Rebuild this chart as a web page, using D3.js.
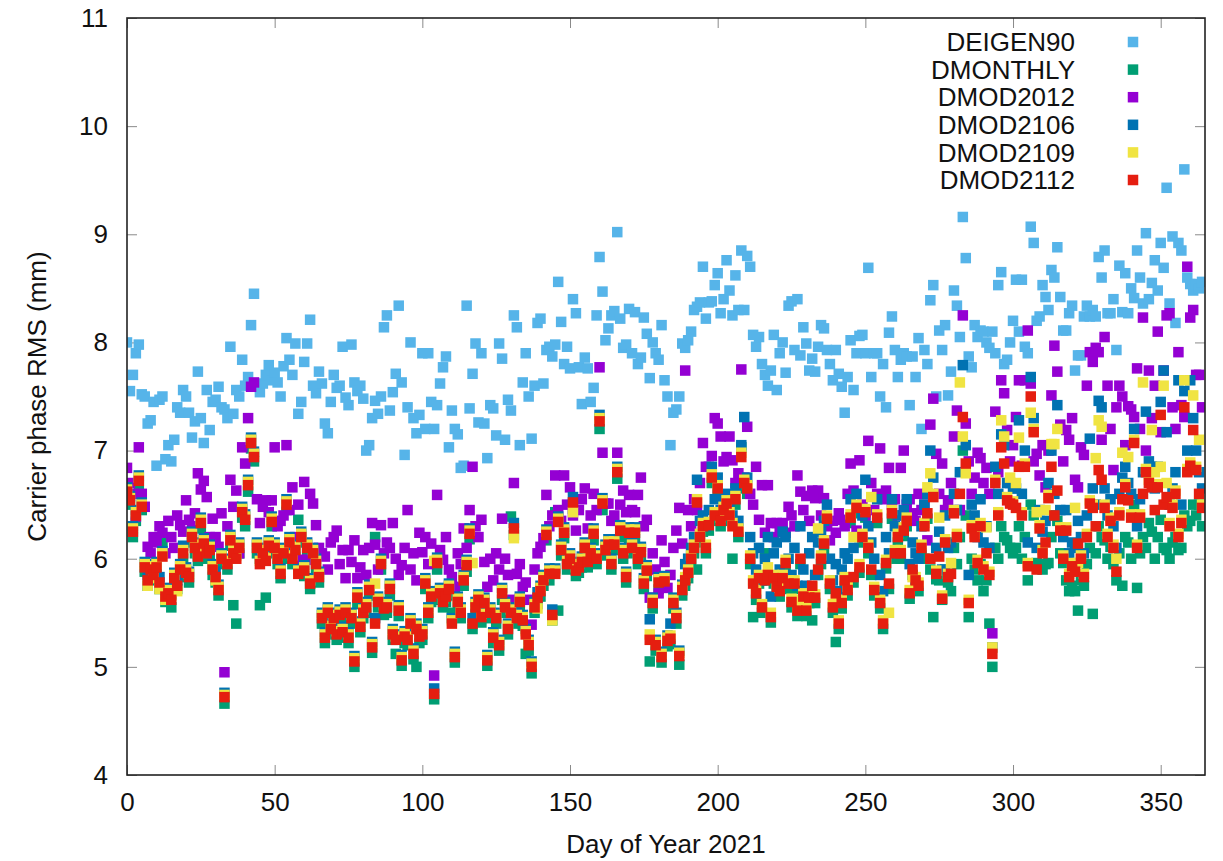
<!DOCTYPE html>
<html>
<head>
<meta charset="utf-8">
<script src="https://cdn.jsdelivr.net/npm/d3@7"></script>
<style>
  body { margin: 0; background: #fff; }
  text { font-family: "Liberation Sans", Arial, sans-serif; fill: #111; }
</style>
</head>
<body>
<div id="chart"></div>
<script>
// day of year for index 0 of every series (one value per day)
const firstDay = 0;

const seriesNames = ['DEIGEN90', 'DMONTHLY', 'DMOD2012', 'DMOD2106', 'DMOD2109', 'DMOD2112'];
const seriesColors = ['#56b4e9', '#009e73', '#9400d3', '#0072b2', '#f0e442', '#e51e10'];
const xTicks = [0, 50, 100, 150, 200, 250, 300, 350];
const yTicks = [4, 5, 6, 7, 8, 9, 10, 11];

// carrier phase RMS (mm)
const deigen90 = [
  8.00,7.55,7.70,7.90,7.98,7.52,7.50,7.25,7.28,7.45,
  6.86,7.47,7.50,6.92,7.05,6.90,7.10,7.40,7.35,7.56,
  7.50,7.35,7.12,7.27,7.73,7.30,7.07,7.56,7.19,7.45,
  7.47,7.59,7.40,7.38,7.30,7.96,7.34,7.56,7.50,7.84,
  7.60,7.68,8.16,8.45,7.60,7.54,7.62,7.70,7.79,7.65,
  7.72,7.63,7.50,7.78,8.04,7.84,7.70,7.99,7.34,7.45,
  7.82,7.99,8.21,7.60,7.53,7.73,7.62,7.25,7.16,7.45,
  7.70,7.58,7.60,7.96,7.49,7.42,7.98,7.63,7.55,7.60,
  7.48,7.00,7.05,7.30,7.46,7.34,7.50,8.14,8.25,7.37,
  7.54,7.71,8.34,7.63,6.96,7.40,8.00,7.30,7.16,7.33,
  7.90,7.20,7.90,7.45,7.20,7.42,7.62,7.77,7.87,7.03,
  7.37,7.20,7.15,6.84,6.86,8.34,7.39,7.71,7.99,7.26,
  7.90,7.25,6.93,7.42,7.39,7.14,7.99,7.85,7.10,7.47,
  7.37,8.25,8.14,7.05,7.63,7.90,7.50,7.11,7.60,8.18,
  8.22,7.62,7.93,7.96,7.87,7.98,8.56,8.19,7.80,7.96,
  7.76,8.40,8.27,7.77,7.43,7.86,7.76,7.45,7.58,8.25,
  8.79,8.47,8.02,8.13,8.25,8.29,9.02,8.22,7.95,7.98,
  8.31,7.90,8.28,7.80,7.86,8.23,8.08,7.67,8.00,7.90,
  7.84,8.16,7.65,7.50,7.05,7.35,7.38,7.50,7.99,7.95,
  8.02,8.10,8.30,8.33,8.37,8.70,8.22,8.37,8.38,8.53,
  8.64,8.27,8.40,8.76,8.48,8.25,8.62,8.30,8.85,8.30,
  8.80,8.70,8.07,7.96,8.05,7.80,7.70,7.60,7.74,8.07,
  7.56,7.90,8.00,7.72,8.34,8.38,7.93,8.40,7.88,8.14,
  7.99,7.74,7.85,7.73,7.96,8.16,8.13,7.93,7.80,7.65,
  7.93,7.71,7.59,7.35,7.68,8.02,7.56,7.90,8.06,8.07,
  7.90,8.69,7.68,7.90,7.90,7.50,7.80,7.40,8.09,8.24,
  7.93,7.68,7.84,7.90,7.87,7.42,7.87,7.68,8.04,7.20,
  7.93,7.80,8.39,8.53,7.50,8.11,7.93,8.16,7.51,7.73,
  8.48,8.34,8.05,9.16,8.78,7.87,7.77,8.16,8.05,8.11,
  8.10,8.00,7.95,8.10,7.90,8.53,8.65,7.80,7.84,8.00,
  8.20,8.58,8.10,8.58,7.96,7.90,9.07,8.92,8.20,8.24,
  8.53,8.42,8.30,8.67,8.60,8.88,8.42,8.11,8.11,8.27,
  8.34,7.74,7.88,7.88,8.24,8.34,8.24,8.30,8.24,8.79,
  8.60,8.85,8.27,8.27,8.40,7.93,8.71,8.28,8.64,8.27,
  8.50,8.41,8.85,8.60,8.36,9.01,8.40,8.55,8.76,8.48,
  8.92,8.69,9.43,8.36,8.98,8.18,8.92,8.85,9.60,8.60,
  8.54,8.48,8.54,8.50,8.56
];

const dmonthly = [
  6.58,6.50,6.20,6.35,6.68,6.45,5.88,5.75,5.85,5.80,
  5.88,5.72,6.15,5.60,5.62,5.55,5.78,5.72,5.85,6.00,
  5.83,5.78,6.15,6.05,5.98,6.28,6.10,6.00,6.04,5.85,
  5.78,5.66,5.95,4.66,5.90,6.12,5.57,5.40,6.05,6.38,
  6.30,6.62,7.02,6.90,6.05,5.57,6.00,5.64,6.08,6.30,
  6.05,5.95,5.82,6.00,6.45,6.10,5.95,6.03,6.36,6.15,
  5.84,6.05,5.72,6.00,5.90,5.78,5.40,5.22,5.45,5.30,
  5.40,5.25,5.43,5.27,5.45,5.22,5.40,5.00,5.58,5.32,
  5.45,5.50,5.66,5.13,6.20,5.55,5.90,5.48,5.50,5.66,
  5.25,5.12,5.47,5.01,5.22,5.20,5.35,5.07,5.00,5.22,
  5.25,5.72,5.45,5.60,4.70,5.90,5.62,5.55,5.60,5.66,
  5.50,5.04,5.55,5.45,5.75,5.88,6.18,5.35,5.50,5.57,
  5.41,5.54,5.01,5.45,5.22,5.40,5.15,5.62,5.50,5.30,
  6.39,6.22,5.40,5.55,5.38,5.12,5.15,4.94,5.50,5.58,
  5.65,5.75,6.17,5.80,5.43,6.43,5.52,6.03,6.19,5.90,
  5.95,6.46,5.84,5.87,5.92,6.05,5.92,6.00,6.17,5.95,
  7.20,6.45,6.03,6.08,5.90,6.08,6.74,6.20,6.00,5.78,
  6.18,6.05,6.18,5.95,6.00,5.72,5.84,5.05,5.54,5.15,
  5.72,5.04,5.74,5.19,5.21,5.54,5.40,5.02,5.66,5.75,
  5.82,5.95,6.05,5.90,6.15,6.25,6.05,6.26,6.70,6.35,
  6.60,6.30,6.40,6.46,6.35,6.00,6.50,6.20,7.03,6.65,
  6.60,5.95,5.46,5.62,5.77,5.50,6.05,5.80,5.41,5.77,
  5.69,5.65,5.77,5.90,5.72,5.55,5.72,5.47,5.95,5.60,
  5.47,5.59,5.43,5.59,5.85,5.95,6.09,6.32,5.72,5.50,
  5.23,5.35,5.54,5.75,5.66,6.33,5.78,6.42,5.87,6.15,
  6.38,6.05,5.85,5.66,6.33,5.54,5.35,5.91,5.72,6.37,
  6.00,6.15,6.00,6.21,6.30,5.63,5.85,5.75,5.70,6.05,
  6.00,6.37,5.90,5.46,5.81,5.80,5.62,5.90,5.78,5.70,
  6.10,5.95,6.20,7.00,6.40,5.46,6.00,5.90,5.80,5.95,
  5.70,5.80,5.40,5.00,6.10,6.00,6.30,6.20,6.17,6.10,
  6.05,6.10,6.30,6.00,6.20,5.80,6.50,6.40,5.96,5.95,
  5.90,5.95,5.96,6.20,6.40,6.35,6.05,5.96,5.80,5.70,
  5.75,5.70,5.52,5.80,5.75,5.95,6.10,5.49,6.05,6.30,
  6.20,6.17,6.00,6.11,5.95,5.80,6.05,5.75,6.20,6.15,
  6.00,6.50,5.73,6.05,6.20,6.10,6.33,6.25,6.00,6.20,
  6.36,6.10,6.08,6.00,6.15,6.20,6.08,6.10,6.40,6.30,
  6.35,6.50,6.40,6.50,6.30
];

const dmod2012 = [
  6.84,6.70,6.60,6.39,7.03,6.60,6.48,6.11,6.05,6.20,
  6.15,6.30,6.24,6.05,6.35,6.20,6.10,6.40,6.31,6.25,
  6.54,6.36,6.30,6.42,6.79,6.64,6.72,6.57,6.20,6.37,
  6.20,6.11,6.42,4.95,6.30,6.73,6.48,6.63,6.05,7.03,
  6.88,7.30,7.59,7.63,6.55,6.33,6.48,6.54,6.43,6.54,
  7.03,6.30,6.35,6.40,7.05,6.45,6.66,6.20,6.50,5.99,
  6.71,5.99,6.60,6.51,6.31,6.10,6.05,6.02,5.90,6.15,
  6.20,6.26,5.95,6.08,5.82,6.08,5.97,6.17,5.82,5.92,
  6.08,5.85,6.10,6.33,6.13,5.90,6.31,6.05,6.15,6.10,
  6.33,6.00,5.85,5.94,6.10,6.45,5.90,6.05,5.80,6.24,
  6.06,6.20,5.95,6.14,4.92,6.59,6.08,5.99,6.20,5.90,
  5.83,5.74,6.05,5.95,6.28,6.10,6.45,6.85,6.30,6.20,
  6.36,5.97,5.74,6.00,5.80,6.05,5.90,6.37,6.00,5.85,
  5.62,6.70,5.86,5.95,5.74,5.78,5.62,5.39,5.90,6.05,
  6.11,6.19,6.59,6.30,6.40,6.77,6.45,6.35,6.77,6.50,
  6.66,6.40,6.26,6.45,6.55,6.65,6.28,6.40,6.60,6.45,
  7.77,6.98,6.51,6.51,6.35,6.40,6.98,6.50,6.63,6.43,
  6.59,6.45,6.43,6.59,6.75,6.30,6.36,5.64,6.05,5.90,
  5.68,6.17,5.97,5.73,5.85,6.10,6.26,6.47,6.14,7.74,
  6.45,6.30,6.55,6.45,6.70,7.07,6.85,6.85,6.95,7.30,
  7.25,7.13,6.90,6.94,7.13,6.91,6.70,6.79,7.75,6.75,
  7.22,6.60,6.50,6.85,6.36,6.68,6.24,6.68,6.33,6.20,
  6.33,6.25,6.33,6.24,6.48,6.40,6.30,6.77,6.62,6.45,
  6.58,6.35,6.63,6.56,6.63,6.40,6.56,6.30,6.17,6.35,
  6.24,6.42,6.36,6.30,6.60,6.88,6.63,6.26,6.91,6.50,
  6.40,7.09,6.70,6.45,6.60,7.02,6.55,6.63,6.84,6.50,
  6.55,6.40,6.84,7.00,6.50,6.55,6.42,6.35,6.60,6.45,
  6.50,6.17,7.24,7.48,6.97,6.60,6.88,6.45,6.54,6.70,
  7.13,7.37,6.45,8.25,7.25,6.90,6.60,6.75,6.98,6.93,
  6.70,6.84,6.60,5.31,7.36,6.80,7.65,7.53,7.19,6.90,
  7.05,7.31,7.65,6.86,7.65,8.11,7.62,6.90,6.97,6.77,
  7.05,6.66,7.00,7.51,7.97,7.73,7.24,6.90,7.19,7.10,
  7.30,6.73,6.66,7.03,6.96,7.60,7.91,7.82,7.95,7.91,
  7.10,8.05,7.60,7.20,6.82,7.40,7.60,7.50,7.05,7.41,
  7.38,7.31,7.76,7.20,8.23,7.00,7.74,7.30,7.60,8.10,
  7.17,7.74,8.25,8.27,7.40,7.20,7.91,7.42,7.31,8.70,
  8.23,8.30,7.70,7.70,7.40
];

const dmod2106 = [
  6.66,6.58,6.30,6.45,6.77,6.52,5.97,5.85,5.95,5.90,
  5.97,5.83,6.07,5.70,5.73,5.67,5.87,5.80,5.95,6.12,
  5.92,5.88,6.25,6.15,6.07,6.38,6.19,6.10,6.13,5.95,
  5.88,5.76,6.05,4.76,6.00,6.22,6.10,6.05,6.15,6.48,
  6.41,6.73,7.12,6.99,6.15,6.00,6.10,6.03,6.17,6.39,
  6.15,6.05,5.91,6.10,6.55,6.20,6.05,6.13,5.91,6.25,
  5.94,6.15,5.82,6.10,6.00,5.88,5.50,5.32,5.55,5.40,
  5.50,5.35,5.53,5.37,5.55,5.32,5.50,5.10,5.69,5.42,
  5.55,5.60,5.76,5.23,5.45,5.65,6.00,5.59,5.60,5.77,
  5.35,5.30,5.57,5.11,5.33,5.30,5.45,5.17,5.40,5.33,
  5.35,5.82,5.55,5.70,4.80,6.01,5.73,5.65,5.70,5.77,
  5.45,5.14,5.65,5.55,5.85,5.99,6.28,5.45,5.60,5.67,
  5.51,5.64,5.11,5.55,5.32,5.50,5.25,5.73,5.60,5.40,
  5.55,6.33,5.50,5.65,5.48,5.35,5.25,5.05,5.60,5.69,
  5.75,5.85,6.27,5.91,5.53,5.91,6.39,6.13,6.29,6.00,
  6.05,6.57,5.94,5.97,6.02,6.15,6.02,6.10,6.28,6.05,
  7.33,6.56,6.13,6.18,6.00,6.18,6.85,6.31,6.10,5.88,
  6.29,6.15,6.29,6.05,6.11,5.82,5.94,5.44,5.64,5.25,
  5.83,5.14,5.84,5.29,5.40,5.64,5.50,5.15,5.76,5.95,
  6.00,6.10,6.20,6.73,6.35,6.40,6.30,6.45,6.85,6.55,
  6.75,6.45,6.55,6.60,6.50,6.40,6.65,6.35,7.05,7.31,
  6.75,6.20,6.05,5.90,6.10,5.80,6.00,6.20,5.65,6.05,
  6.15,5.90,6.25,6.20,6.00,5.85,6.10,5.75,6.30,5.90,
  5.75,6.05,6.20,5.85,6.15,6.25,6.35,6.50,6.00,5.80,
  5.95,5.70,5.90,6.05,6.00,6.55,6.10,6.60,6.20,6.40,
  6.73,6.30,6.15,6.00,6.55,5.85,5.70,6.20,6.05,6.55,
  6.30,6.40,6.25,6.45,6.55,5.95,6.15,6.05,6.00,6.30,
  6.50,6.60,7.00,6.75,6.10,6.25,5.90,6.40,6.10,6.15,
  6.60,6.45,6.80,7.79,7.05,5.85,6.50,6.40,6.20,6.55,
  6.15,6.30,6.10,5.18,6.85,6.60,7.15,7.05,6.70,6.70,
  6.65,6.65,7.28,6.60,7.00,6.15,7.68,7.30,6.10,6.45,
  6.25,6.35,6.70,7.00,6.60,7.42,6.45,6.20,6.45,6.05,
  6.15,6.10,6.35,6.20,6.05,6.40,7.11,6.65,6.50,7.46,
  7.40,6.65,6.40,6.55,6.30,6.10,6.60,6.75,6.85,6.70,
  6.60,7.20,6.30,6.55,6.80,7.36,6.90,6.85,6.65,6.85,
  7.45,7.74,7.17,6.50,6.65,6.80,7.65,6.50,7.55,7.00,
  7.65,7.30,7.00,6.80,6.65
];

const dmod2109 = [
  6.64,6.56,6.28,6.43,6.75,6.50,5.95,5.75,5.93,5.82,
  5.95,5.72,6.05,5.62,5.71,5.66,5.85,5.70,5.93,6.08,
  5.90,5.86,6.23,6.13,6.05,6.36,6.17,6.08,6.11,5.93,
  5.80,5.74,6.03,4.74,5.98,6.20,6.08,6.03,6.13,6.46,
  6.39,6.71,7.10,6.97,6.13,5.98,6.08,6.01,6.15,6.37,
  6.13,6.03,5.89,6.08,6.53,6.18,6.03,6.11,5.89,6.23,
  5.92,6.13,5.80,6.08,5.98,5.86,5.48,5.30,5.53,5.38,
  5.48,5.33,5.51,5.35,5.53,5.30,5.48,5.08,5.67,5.40,
  5.53,5.58,5.74,5.21,5.77,5.63,5.98,5.57,5.58,5.75,
  5.33,5.28,5.55,5.09,5.31,5.28,5.43,5.15,5.38,5.31,
  5.33,5.80,5.53,5.68,5.98,5.99,5.71,5.63,5.68,5.75,
  5.43,5.12,5.63,5.53,5.83,5.97,6.26,5.96,5.58,5.65,
  5.49,5.62,5.09,5.53,5.30,5.48,5.23,5.71,5.58,5.38,
  5.53,6.19,5.48,5.63,5.46,5.33,5.23,5.03,5.58,5.54,
  5.73,5.83,6.25,5.89,5.43,5.89,6.37,6.11,6.27,5.98,
  6.03,6.43,5.92,5.95,6.00,6.13,6.00,6.08,6.26,6.03,
  7.30,6.54,6.11,6.16,5.98,6.16,6.83,6.29,6.08,5.86,
  6.27,6.13,6.27,6.03,6.09,5.80,5.92,5.30,5.62,5.23,
  5.81,5.12,5.82,5.27,5.29,5.62,5.48,5.13,5.74,5.83,
  5.90,6.03,6.13,6.55,6.23,6.33,6.13,6.34,6.78,6.43,
  6.68,6.38,6.48,6.54,6.43,6.33,6.58,6.28,6.98,6.73,
  6.68,6.03,5.80,5.71,5.85,5.58,5.83,5.92,5.50,5.85,
  5.77,5.73,5.85,5.99,5.80,5.63,5.80,5.55,5.62,5.68,
  5.55,5.67,5.74,5.67,6.28,6.03,6.17,6.40,5.80,5.58,
  5.62,5.43,5.62,5.83,5.74,6.41,6.20,6.50,5.95,6.23,
  6.46,6.13,6.57,5.74,6.41,5.62,5.43,5.99,5.50,6.45,
  6.08,6.23,6.08,6.29,6.38,5.71,5.83,5.83,5.78,6.13,
  6.33,6.66,6.79,6.60,5.89,6.38,5.66,6.18,5.86,5.96,
  6.45,6.23,7.63,7.13,6.79,5.62,6.31,6.23,5.99,6.33,
  5.93,6.29,5.88,5.18,6.73,6.43,7.28,7.13,6.57,6.75,
  6.53,6.70,7.12,6.43,6.88,5.96,7.35,7.20,6.43,6.31,
  6.08,6.45,6.59,7.06,7.06,7.20,6.29,6.03,6.29,5.86,
  5.96,6.47,5.96,6.03,5.86,6.23,6.54,6.50,6.93,7.28,
  7.22,6.50,6.23,6.38,6.13,6.00,6.43,6.98,6.69,6.94,
  6.41,7.10,6.13,6.41,7.63,6.83,6.73,7.19,6.80,6.69,
  6.85,7.60,6.70,6.33,6.50,6.63,6.23,6.36,7.65,6.83,
  6.89,7.51,6.85,7.10,6.50
];

const dmod2112 = [
  6.62,6.54,6.25,6.40,6.72,6.48,5.92,5.80,5.90,5.85,
  5.92,5.78,6.02,5.65,5.68,5.62,5.82,5.75,5.90,6.05,
  5.87,5.83,6.20,6.10,6.02,6.33,6.14,6.05,6.08,5.90,
  5.83,5.71,6.00,4.72,5.95,6.17,6.05,6.00,6.10,6.43,
  6.36,6.68,7.07,6.94,6.10,5.95,6.05,5.98,6.12,6.34,
  6.10,6.00,5.86,6.05,6.50,6.15,6.00,6.08,5.86,6.20,
  5.89,6.10,5.77,6.05,5.95,5.83,5.45,5.27,5.50,5.35,
  5.45,5.30,5.48,5.32,5.50,5.27,5.45,5.05,5.64,5.37,
  5.50,5.55,5.71,5.18,5.40,5.60,5.95,5.54,5.55,5.72,
  5.30,5.25,5.52,5.06,5.28,5.25,5.40,5.12,5.35,5.28,
  5.30,5.77,5.50,5.65,4.75,5.96,5.68,5.60,5.65,5.72,
  5.40,5.09,5.60,5.50,5.80,5.94,6.23,5.40,5.55,5.62,
  5.46,5.59,5.06,5.50,5.27,5.45,5.20,5.68,5.55,5.35,
  5.50,6.28,5.45,5.60,5.43,5.30,5.20,5.00,5.55,5.64,
  5.70,5.80,6.22,5.86,5.48,5.86,6.34,6.08,6.24,5.95,
  6.00,6.52,5.89,5.92,5.97,6.10,5.97,6.05,6.23,6.00,
  7.27,6.51,6.08,6.13,5.95,6.13,6.80,6.26,6.05,5.83,
  6.24,6.10,6.24,6.00,6.06,5.77,5.89,5.25,5.59,5.20,
  5.78,5.09,5.79,5.24,5.26,5.59,5.45,5.10,5.71,5.80,
  5.87,6.00,6.10,6.52,6.20,6.30,6.10,6.31,6.75,6.40,
  6.65,6.35,6.45,6.51,6.40,6.30,6.55,6.25,6.94,6.70,
  6.65,6.00,5.77,5.68,5.82,5.55,5.80,5.85,5.46,5.82,
  5.74,5.70,5.82,5.96,5.77,5.60,5.77,5.52,6.00,5.65,
  5.52,5.64,5.75,5.64,5.90,6.00,6.14,6.37,5.77,5.55,
  5.68,5.40,5.59,5.80,5.71,6.38,5.83,6.47,5.92,6.20,
  6.43,6.10,5.90,5.71,6.38,5.59,5.40,5.96,5.77,6.42,
  6.05,6.20,6.05,6.26,6.35,5.68,5.90,5.80,5.75,6.10,
  6.30,6.42,6.00,6.57,5.86,6.02,5.63,6.15,5.83,5.86,
  6.42,6.20,6.60,7.31,6.88,5.59,6.28,6.20,5.96,6.30,
  5.90,6.05,5.85,5.12,6.70,6.40,7.03,6.88,6.54,6.51,
  6.50,6.47,6.85,6.40,6.85,5.93,7.50,7.17,5.90,6.28,
  6.05,6.15,6.56,6.85,6.40,6.63,6.26,6.00,6.26,5.83,
  5.93,5.88,6.14,6.00,5.83,6.20,6.51,6.47,6.30,6.82,
  6.73,6.47,6.20,6.35,6.10,5.88,6.40,6.55,6.66,6.54,
  6.38,7.07,6.10,6.38,6.60,6.80,6.70,6.66,6.45,6.66,
  7.33,6.50,6.57,6.30,6.47,6.60,6.20,6.33,7.40,6.80,
  6.86,7.19,6.82,6.60,6.47
];

const seriesValues = [deigen90, dmonthly, dmod2012, dmod2106, dmod2109, dmod2112];

// ---- layout ----
const width = 1223;
const height = 861;
const margin = { top: 18, right: 18, bottom: 86, left: 127 };
const plotW = width - margin.left - margin.right;
const plotH = height - margin.top - margin.bottom;
const markerSize = 10.5;
const fontSize = 26;

const x = d3.scaleLinear().domain([0, 365]).range([0, plotW]);
const y = d3.scaleLinear().domain([4, 11]).range([plotH, 0]);

const svg = d3.select('#chart')
  .append('svg')
  .attr('width', width)
  .attr('height', height);

const g = svg.append('g')
  .attr('transform', `translate(${margin.left},${margin.top})`);

// clip so markers stay inside the frame
svg.append('defs').append('clipPath').attr('id', 'plot-clip')
  .append('rect').attr('width', plotW).attr('height', plotH);

// axes: ticks point inward, mirrored on top and right
function styleAxis(sel) {
  sel.select('.domain').remove();
  sel.selectAll('.tick line').attr('stroke', '#8a8a8a').attr('stroke-width', 1);
  sel.selectAll('.tick text')
    .style('font-size', `${fontSize}px`)
    .attr('fill', '#111');
}

const intFmt = d3.format('d');

g.append('g')
  .attr('transform', `translate(0,${plotH})`)
  .call(d3.axisBottom(x).tickValues(xTicks).tickFormat(intFmt)
    .tickSizeInner(-10).tickSizeOuter(0).tickPadding(18))
  .call(styleAxis);

g.append('g')
  .call(d3.axisTop(x).tickValues(xTicks).tickSizeInner(-10).tickSizeOuter(0).tickFormat(''))
  .call(styleAxis);

g.append('g')
  .call(d3.axisLeft(y).tickValues(yTicks).tickFormat(intFmt)
    .tickSizeInner(-10).tickSizeOuter(0).tickPadding(19))
  .call(styleAxis);

g.append('g')
  .attr('transform', `translate(${plotW},0)`)
  .call(d3.axisRight(y).tickValues(yTicks).tickSizeInner(-10).tickSizeOuter(0).tickFormat(''))
  .call(styleAxis);

// data layers, later series drawn on top (gnuplot order)
const layer = g.append('g').attr('clip-path', 'url(#plot-clip)');

seriesValues.forEach((vals, si) => {
  layer.append('g')
    .attr('class', `series-${seriesNames[si]}`)
    .selectAll('rect')
    .data(vals.map((v, i) => ({ day: firstDay + i, value: v })))
    .join('rect')
    .attr('x', d => x(d.day) - markerSize / 2)
    .attr('y', d => y(d.value) - markerSize / 2)
    .attr('width', markerSize)
    .attr('height', markerSize)
    .attr('fill', seriesColors[si]);
});

// frame
g.append('rect')
  .attr('width', plotW)
  .attr('height', plotH)
  .attr('fill', 'none')
  .attr('stroke', '#222')
  .attr('stroke-width', 1.6);

// legend (top right, text right-aligned, marker to the right)
const legend = g.append('g').attr('class', 'legend');
const legendTextX = 1075 - margin.left;
const legendMarkX = 1133 - margin.left;
seriesNames.forEach((name, i) => {
  const ly = 42 - margin.top + i * 27.6;
  legend.append('text')
    .attr('x', legendTextX)
    .attr('y', ly)
    .attr('dy', '0.35em')
    .attr('text-anchor', 'end')
    .style('font-size', `${fontSize}px`)
    .text(name);
  legend.append('rect')
    .attr('x', legendMarkX - markerSize / 2)
    .attr('y', ly - markerSize / 2)
    .attr('width', markerSize)
    .attr('height', markerSize)
    .attr('fill', seriesColors[i]);
});

// axis titles
svg.append('text')
  .attr('x', margin.left + plotW / 2)
  .attr('y', 853)
  .attr('text-anchor', 'middle')
  .style('font-size', `${fontSize}px`)
  .text('Day of Year 2021');

svg.append('text')
  .attr('transform', `translate(46,${margin.top + plotH / 2}) rotate(-90)`)
  .attr('text-anchor', 'middle')
  .style('font-size', `${fontSize}px`)
  .text('Carrier phase RMS (mm)');
</script>
</body>
</html>
